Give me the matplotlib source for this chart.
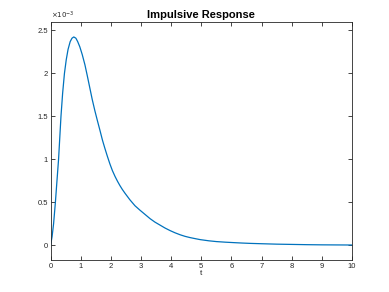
import matplotlib
matplotlib.use("Agg")
import matplotlib.pyplot as plt
from matplotlib.ticker import FuncFormatter

# data (response values in units of 1e-3)
t = [0, 0.05, 0.1, 0.16, 0.21, 0.265, 0.305, 0.345, 0.4, 0.46, 0.52, 0.58,
     0.65, 0.71, 0.77, 0.84, 0.9, 0.97, 1.05, 1.14, 1.22, 1.30, 1.38, 1.47,
     1.55, 1.64, 1.72, 1.80, 1.88, 1.97, 2.05, 2.14, 2.22, 2.30, 2.38, 2.47,
     2.63, 2.8, 2.96, 3.13, 3.30, 3.46, 3.63, 3.8, 3.97, 4.13, 4.3, 4.46,
     4.62, 4.8, 4.96, 5.25, 5.5, 5.8, 6.07, 6.35, 6.62, 7.0, 7.5, 8.0,
     8.5, 9.0, 9.5, 10.0]
h_milli = [0, 0.1, 0.25, 0.5, 0.74, 1.0, 1.25, 1.5, 1.77, 2.0, 2.16, 2.28,
           2.37, 2.41, 2.425, 2.41, 2.37, 2.31, 2.22, 2.1, 1.97, 1.835, 1.70, 1.565,
           1.455, 1.335, 1.225, 1.13, 1.04, 0.945, 0.87, 0.80, 0.745, 0.695, 0.65, 0.605,
           0.53, 0.46, 0.41, 0.36, 0.31, 0.27, 0.235, 0.20, 0.17, 0.145, 0.122, 0.104,
           0.09, 0.077, 0.066, 0.052, 0.043, 0.036, 0.031, 0.026, 0.022, 0.018, 0.013, 0.010,
           0.007, 0.005, 0.004, 0.003]
h = [v * 1e-3 for v in h_milli]

xticks = [0, 1, 2, 3, 4, 5, 6, 7, 8, 9, 10]
yticks = [0, 0.5e-3, 1e-3, 1.5e-3, 2e-3, 2.5e-3]

plt.rcParams['font.family'] = ['Liberation Sans', 'DejaVu Sans']

fig = plt.figure(figsize=(3.89, 2.92), dpi=100)
ax = fig.add_axes([0.13, 0.11, 0.775, 0.815])
ax.plot(t, h, color='#0072BD', lw=0.9)
ax.set_xlim(0, 10)
ax.set_ylim(-0.17e-3, 2.6e-3)
ax.set_xticks(xticks)
ax.set_yticks(yticks)
ax.yaxis.set_major_formatter(FuncFormatter(lambda v, p: f"{v*1e3:g}"))
ax.tick_params(direction='in', length=3, width=0.6, labelsize=5.5,
               colors='#262626', top=True, right=True, pad=2)
for s in ax.spines.values():
    s.set_color('#262626')
    s.set_linewidth(0.6)
ax.set_xlabel('t', fontsize=6, color='#262626', labelpad=0)
ax.set_title('Impulsive Response', fontsize=8, fontweight='bold', pad=3)
ax.text(0.0, 1.005, r'$\times10^{-3}$', transform=ax.transAxes,
        fontsize=5, color='#262626', ha='left', va='bottom')

fig.savefig('out.png', dpi=100)
